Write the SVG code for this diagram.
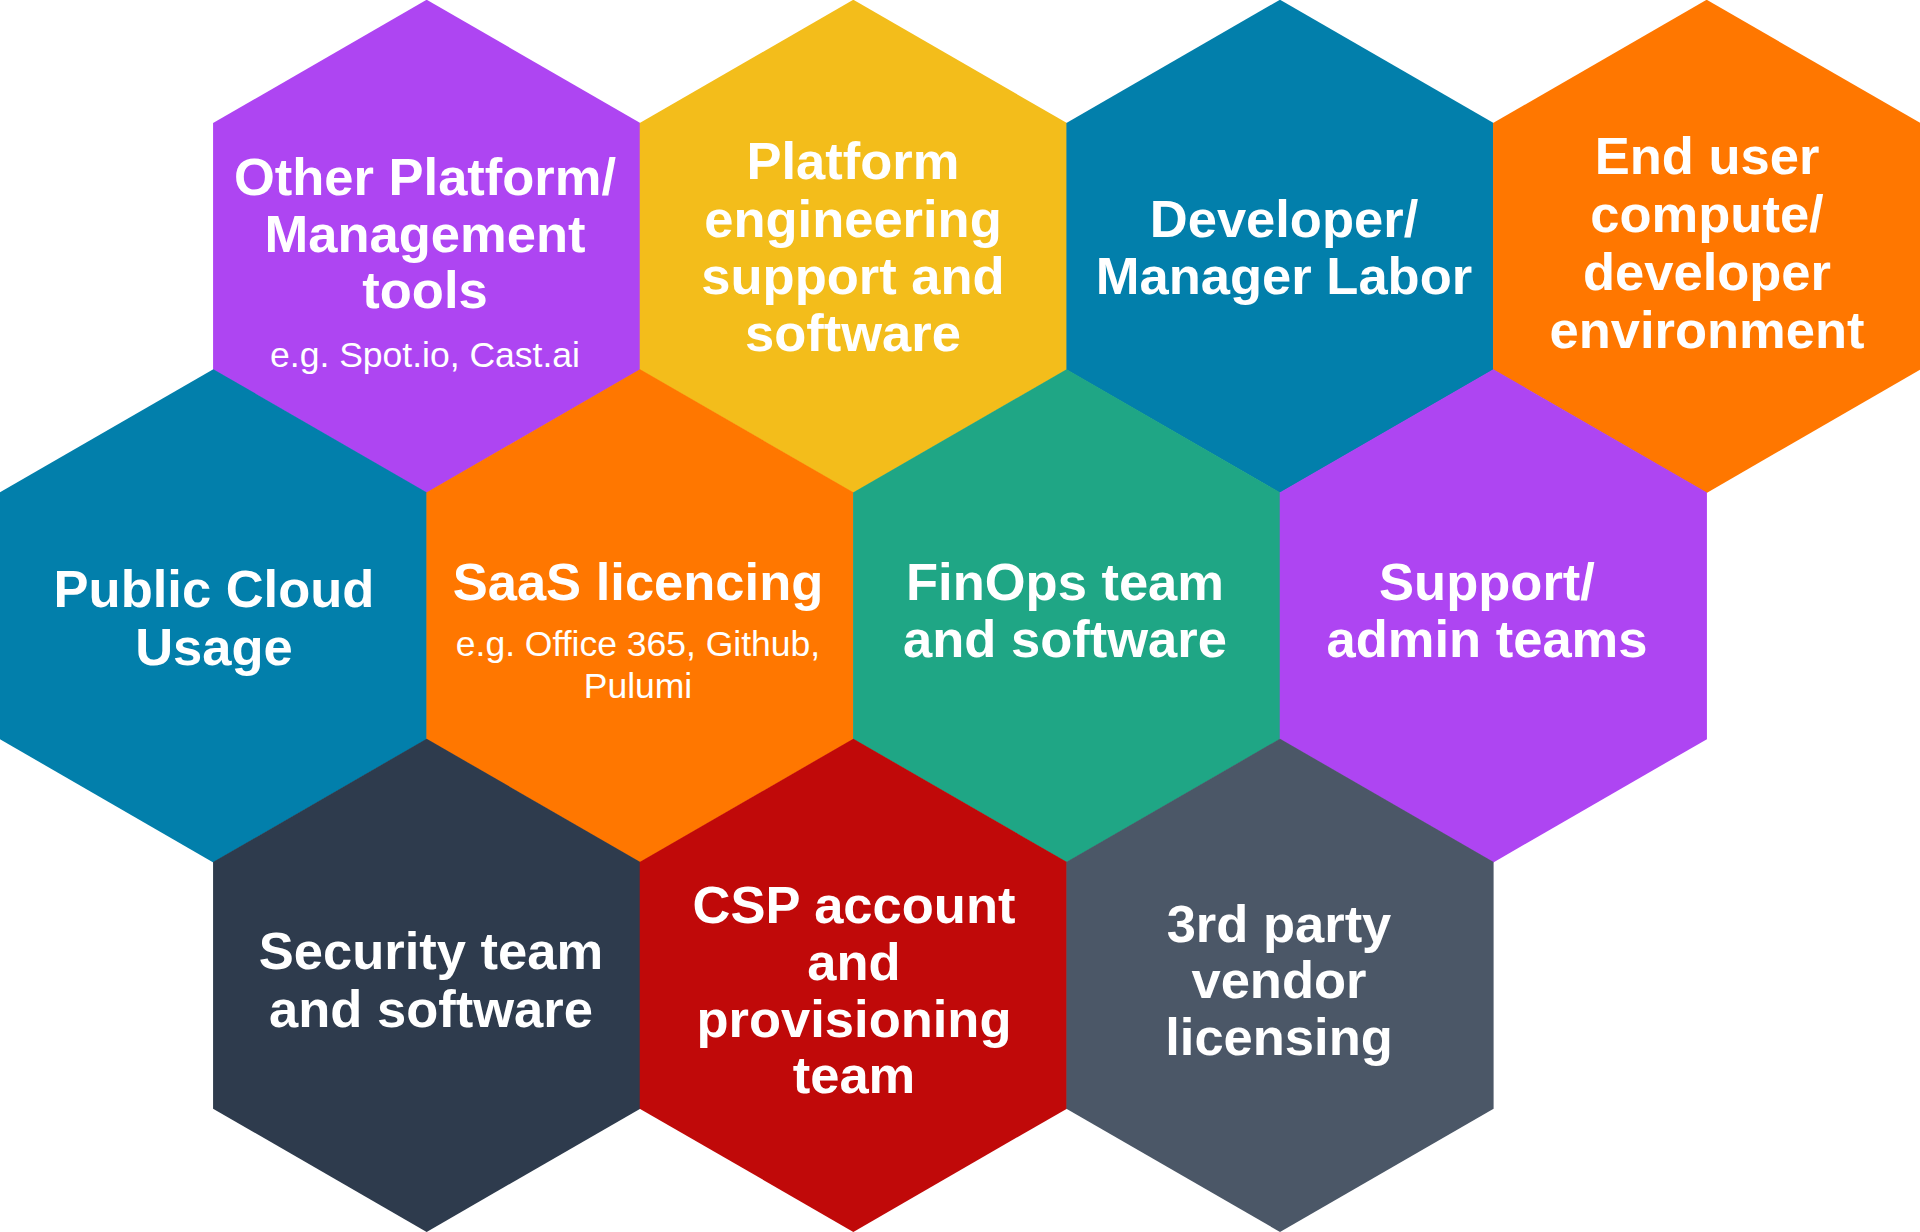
<svg xmlns="http://www.w3.org/2000/svg" xmlns:xlink="http://www.w3.org/1999/xlink" width="1920" height="1232" viewBox="0 0 1920 1232">
  <style>
    .t { font-family: "Liberation Sans", Arial, sans-serif; font-weight: bold; font-size: 52.5px; fill: #ffffff; text-anchor: middle; }
    .s { font-family: "Liberation Sans", Arial, sans-serif; font-weight: normal; font-size: 35.5px; fill: #ffffff; text-anchor: middle; }
  </style>
  <defs>
    <polygon id="hex" points="0,-246.6 213.6,-123.3 213.6,123.3 0,246.6 -213.6,123.3 -213.6,-123.3"/>
  </defs>
  <rect width="1920" height="1232" fill="#ffffff"/>

  <g id="node-other-platform">
    <use xlink:href="#hex" x="426.67" y="246.33" fill="#AE45F2"/>
    <text class="t" x="425" y="195">Other Platform/</text>
    <text class="t" x="425" y="252">Management</text>
    <text class="t" x="425" y="308">tools</text>
    <text class="s" x="425" y="367">e.g. Spot.io, Cast.ai</text>
  </g>

  <g id="node-platform-engineering">
    <use xlink:href="#hex" x="853.33" y="246.33" fill="#F3BD1B"/>
    <text class="t" x="853" y="179">Platform</text>
    <text class="t" x="853" y="237">engineering</text>
    <text class="t" x="853" y="294">support and</text>
    <text class="t" x="853" y="351">software</text>
  </g>

  <g id="node-developer-labor">
    <use xlink:href="#hex" x="1280" y="246.33" fill="#027FAB"/>
    <text class="t" x="1284" y="237">Developer/</text>
    <text class="t" x="1284" y="294">Manager Labor</text>
  </g>

  <g id="node-end-user">
    <use xlink:href="#hex" x="1706.67" y="246.33" fill="#FF7700"/>
    <text class="t" x="1707" y="174">End user</text>
    <text class="t" x="1707" y="232">compute/</text>
    <text class="t" x="1707" y="290">developer</text>
    <text class="t" x="1707" y="348">environment</text>
  </g>

  <g id="node-public-cloud">
    <use xlink:href="#hex" x="213.33" y="615.83" fill="#027FAB"/>
    <text class="t" x="214" y="607">Public Cloud</text>
    <text class="t" x="214" y="665">Usage</text>
  </g>

  <g id="node-saas">
    <use xlink:href="#hex" x="640" y="615.83" fill="#FF7700"/>
    <text class="t" x="638" y="600">SaaS licencing</text>
    <text class="s" x="638" y="656">e.g. Office 365, Github,</text>
    <text class="s" x="638" y="698">Pulumi</text>
  </g>

  <g id="node-finops">
    <use xlink:href="#hex" x="1066.67" y="615.83" fill="#1FA685"/>
    <text class="t" x="1065" y="600">FinOps team</text>
    <text class="t" x="1065" y="657">and software</text>
  </g>

  <g id="node-support">
    <use xlink:href="#hex" x="1493.33" y="615.83" fill="#AE45F2"/>
    <text class="t" x="1487" y="600">Support/</text>
    <text class="t" x="1487" y="657">admin teams</text>
  </g>

  <g id="node-security">
    <use xlink:href="#hex" x="426.67" y="985.33" fill="#2E3B4D"/>
    <text class="t" x="431" y="969">Security team</text>
    <text class="t" x="431" y="1027">and software</text>
  </g>

  <g id="node-csp">
    <use xlink:href="#hex" x="853.33" y="985.33" fill="#C00909"/>
    <text class="t" x="854" y="923">CSP account</text>
    <text class="t" x="854" y="980">and</text>
    <text class="t" x="854" y="1037">provisioning</text>
    <text class="t" x="854" y="1093">team</text>
  </g>

  <g id="node-third-party">
    <use xlink:href="#hex" x="1280" y="985.33" fill="#4B5767"/>
    <text class="t" x="1279" y="942">3rd party</text>
    <text class="t" x="1279" y="998">vendor</text>
    <text class="t" x="1279" y="1055">licensing</text>
  </g>

  <g id="connectors"></g>
</svg>
